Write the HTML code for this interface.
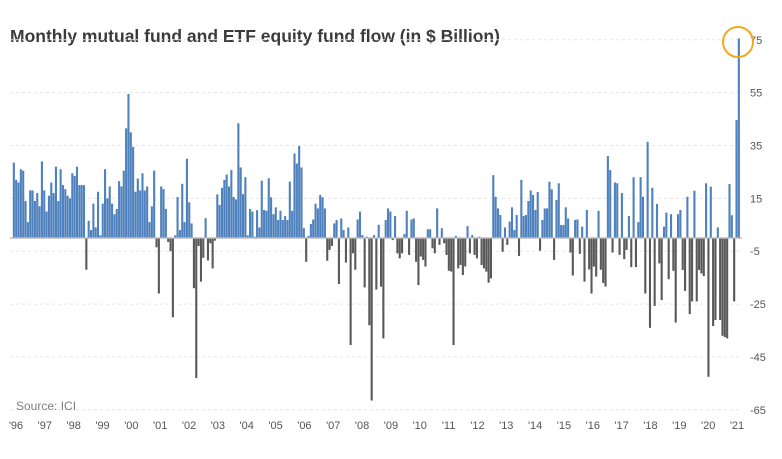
<!DOCTYPE html>
<html><head><meta charset="utf-8"><style>
html,body{margin:0;padding:0;background:#fff;}
body{width:782px;height:454px;overflow:hidden;font-family:"Liberation Sans",sans-serif;}
</style></head><body>
<svg id="chart" width="782" height="454" xmlns="http://www.w3.org/2000/svg">
<text x="10" y="42" font-size="17.5" font-weight="bold" fill="#3a3a3a" font-family="Liberation Sans, sans-serif">Monthly mutual fund and ETF equity fund flow (in $ Billion)</text>
<g id="grid"></g>
<g id="bars"></g>
<g id="yticks"></g>
<g id="xticks"></g>
<text x="16" y="410" font-size="12" fill="#808080">Source: ICI</text>
<circle cx="738" cy="42" r="15" fill="none" stroke="#f2a91f" stroke-width="2"/>
</svg>
<script>
const values = [28.5,22,21,26,25.5,14,6,18,18,14,17,12,29,18,10,16,21,17,27,14,26,20,18.5,16,15,24.5,23.5,27,20,20,20,-12,6.5,3,13,4,17.5,1,13,26,15,19.5,13,9,11,21.5,19.5,25.5,41.5,54.5,40,34.5,
17.5,22.5,18,24.5,18,19.5,6,12,25.5,-3.5,-21,19.5,18.5,11,-1.5,-5,-30,1,15.5,3,20.5,6,30,13.5,5.5,-19,-53,-3,-16.5,-7.5,7.5,-8.5,-2,-11.5,-1,16.5,12.5,19,22,24,19.5,25.7,15.5,14.6,43.4,26.7,16.6,23,1,11,10,0.5,10.5,
4,21.7,10.6,10.3,22.6,15.4,9,11.6,6.8,10.3,6.8,8.3,6.8,21.3,10.3,32,28.2,34.8,26.7,3.7,-9,0.8,5.3,7,13,11.2,16.3,15.4,11.2,-8.6,-4.5,-3,5.5,6.8,-17.4,7.4,3,-9.3,4,-40.5,-5.8,-12,7,10,1.1,-18.7,0.5,-33,-61.5,1.1,-19.5,5,
-18.4,-38,6.8,11.2,10,-0.8,8.3,-5.8,-7.7,-5.8,1.5,10.3,-6.4,7,7.4,-9,-17.8,-7,-8.3,-10.8,3.3,3.3,-3.9,-5.8,11.2,-2.6,3.7,-2,-6.4,-12.4,-12.7,-40.5,0.8,-11.5,-10.2,-14,-10.8,4.5,-5.8,1.1,-6.4,-7.7,0.5,-10.2,-11.5,-12.7,-16.9,-15.3,23.8,15.6,11.2,8.7,-5.2,
4,-2.6,6.2,11.6,3,8.7,-6.8,22,8.3,8.7,14,18,16.3,10.6,17.4,-4.8,6.8,11.2,11.2,21.3,18.4,-8.3,14.4,20.7,4.9,4.9,11.6,7.4,-5.5,-14.2,6.8,7,-6,4.3,-16.5,10.6,-11.9,-21,-10.8,-14.6,10.3,-12,-17,-18.4,31,25.7,-5.5,21,20.7,-6.4,17,-8,-4.5,8.3,-11,23,
-11,6,23,15.6,-21,36.4,-34,19,-25.7,12.9,-9.6,-23.5,4.3,9.6,-15.6,9,-12.4,-32,9,10.6,-12.1,-20,15.6,-28.8,-24,17.9,-24,-12.1,-13.4,-14.4,20.7,-52.5,19.4,-33.3,-31,4,-31,-37,-37.5,-38,20.4,8.6,-24,44.6,75.5];
const yTicks = [75,55,35,15,-5,-25,-45,-65];
const xLabels = ["'96","'97","'98","'99","'00","'01","'02","'03","'04","'05","'06","'07","'08","'09","'10","'11","'12","'13","'14","'15","'16","'17","'18","'19","'20","'21"];
const NS="http://www.w3.org/2000/svg";
function y(v){return 238 - v*2.643;}
function xb(i){return 14 + i*(739-14)/(values.length-1);}
function xl(k){return 16 + k*28.84;}
const grid=document.getElementById('grid'),bars=document.getElementById('bars'),yt=document.getElementById('yticks'),xt=document.getElementById('xticks');
yTicks.forEach(t=>{
  const l=document.createElementNS(NS,'line');
  l.setAttribute('x1',10);l.setAttribute('x2',742);l.setAttribute('y1',y(t));l.setAttribute('y2',y(t));
  l.setAttribute('stroke','#e6e6e6');l.setAttribute('stroke-dasharray','3,3');
  
  
  grid.appendChild(l);
  const tx=document.createElementNS(NS,'text');
  tx.setAttribute('x',750);tx.setAttribute('y',y(t)+4);tx.setAttribute('font-size','11');tx.setAttribute('fill','#555');
  tx.textContent=t;
  
  
  yt.appendChild(tx);
});
values.forEach((v,i)=>{
  const r=document.createElementNS(NS,'rect');
  const x=xb(i);
  r.setAttribute('x',x-1.2);r.setAttribute('width',2.1);
  r.setAttribute('y',Math.min(y(v),238));r.setAttribute('height',Math.abs(y(v)-238));
  r.setAttribute('fill',v>=0?'#4f81bd':'#595959');
  
  
  bars.appendChild(r);
});
const z=document.createElementNS(NS,'line');
z.setAttribute('x1',10);z.setAttribute('x2',742);z.setAttribute('y1',238);z.setAttribute('y2',238);z.setAttribute('stroke','#bbb');z.setAttribute('stroke-width','1.5');


bars.appendChild(z);
xLabels.forEach((s,k)=>{
  const tx=document.createElementNS(NS,'text');
  tx.setAttribute('x',xl(k));tx.setAttribute('y',429);tx.setAttribute('font-size','11');tx.setAttribute('fill','#555');tx.setAttribute('text-anchor','middle');
  tx.textContent=s;
  
  
  xt.appendChild(tx);
});
</script>
</body></html>
